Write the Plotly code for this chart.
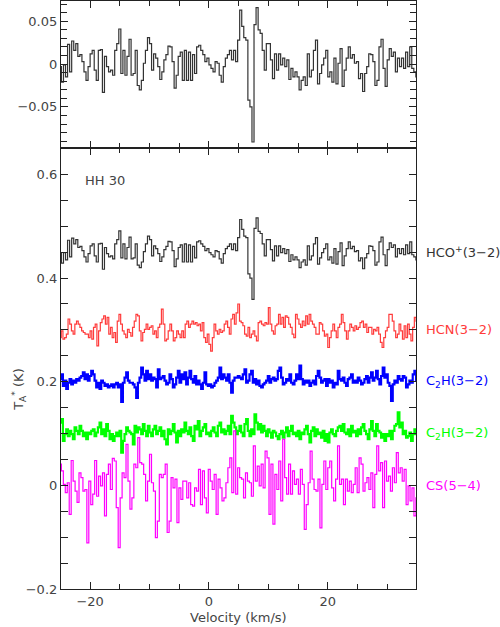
import numpy as np
import plotly.graph_objects as go
from plotly.subplots import make_subplots

# velocity span covered by every spectrum (km/s)
V_START = -25.0
V_END = 35.0

# spectra, baseline removed, in mK
HCO_P = [
    -3, -21, -1, -15, 23, -9, 27, 16, 24, 9,
    11, 3, -9, -19, -3, 12, 16, -7, -19, 16,
    17, -33, 9, -3, -9, -7, -13, 16, 24, 41,
    -11, 16, -13, 9, 29, -13, -11, 16, -25, -30,
    -19, 1, 16, 31, 24, -7, 12, 7, -3, -18,
    -9, 5, 11, 21, 20, 3, -28, -13, 9, 14,
    -19, 16, -19, 14, -19, 11, -11, 20, 22, 16,
    11, 3, 7, -1, -5, -9, 3, 1, -13, -21,
    -3, 7, 11, 16, 5, 16, 3, 28, 63, 44,
    31, 28, -42, -50, -91, 46, 66,
    40, 36, 16, -7, 24, 24, 5, -17, 12, -7,
    12, -1, 7, -3, 5, -18, -5, -15, -9, -15,
    -30, -19, -15, -25, 12, -15, -7, 16, 28, -23,
    -11, -1, 7, 16, -15, -9, -21, 7, -23, 1,
    18, -26, -7, 7, 20, 7, 11, 1, 3, -17,
    -11, -32, -11, -3, 12, 11, 3, -25, -19, 20,
    29, -5, -26, 5, 18, 9, 14, -9, 7, -3,
    7, -5, 14, -3, 20, -5, -9, -15,
]

HCN = [
    -15, -2, -18, -15, -8, 21, 11, -2, -8, 11,
    17, 11, 5, -2, -5, -8, -8, -15, -2, -18,
    5, 11, -31, -2, 14, 21, 27, 11, 24, -8,
    5, -15, -5, -24, 17, 30, 11, -2, -8, -15,
    1, -5, -12, 5, 17, 30, 27, -2, -21, -5,
    1, 11, 1, 5, 8, -8, -2, -15, 5, 11,
    40, 11, -21, -18, -2, 11, -2, -21, -15, -2,
    -8, -15, -2, -15, 11, 17, 5, 11, 17, 11,
    14, 8, 11, -2, 14, -15, -24, -8, -28, -41,
    -15, 11, -2, -8, 1, -5, -2, 11, 17, 5,
    -8, 21, 30, 11, 33, 50, 17,
    14, 8, -8, -12, 5, -15, -8, -2, -12, -21,
    14, 17, 11, 8, 14, 11, 43, 11, -2, -8,
    8, 11, 30, 11, 24, 5, 27, 24, 11, 5,
    -8, -15, 30, 21, 11, 5, 17, 8, 27, 11,
    30, 17, 11, 5, -8, -8, 14, 11, -2, -12,
    -8, -34, -15, -2, 11, -2, -15, 5, 11, 30,
    14, -2, -18, -2, 11, 5, -2, 8, 1, 5,
    14, 17, 5, 11, -5, 5, 5, -8, 1, -2,
    5, -8, -24, -34, -15, -2, 5, 30, 30, 17,
    -2, -15, -8, 11, -2, -18, 8, -15, 11, -8,
    -21, 5, 24, 17,
]

C2H_A = [
    5, 14, -8, 2, -14, -2, 5, -5, 2, -2, 5, 2, 8, 11, 18, 5, 14, 2, 11, 21,
    14, 2, -11, -2, -14, 2, -2, -8, -5, -11, -8, -5, -11, -5, -2, -11, -5, -39, -2, 8,
    18, 2, -2, -2, -5, -11, -31, -2, 8, 27, 14, 2, 21, 5, 14, 2, 8, 5, -11, 24,
    5, 8, 11, 2, -5, -2, 14, 5, -11, -5, 8, 21, -2, 14, 5, 18, -5, 8, 21, 5,
    -2, 11, -5, 2, -5, -14, -2, 18, -5, -8, -5, -11, -8, -2, 2, 8, 27, 5, 14, 8,
    2, 14, -2, -21, 2, 8, 8, 11,
    8, 5, 14, 24, -2, 2, 14, 21, -2, 5, -5, 2, -8, -11, -5, -2, 2, 11, -2, 5,
    8, 2, 5, 21, 27, 8, -5, -2, 5, 2, 14, -2, -5, 2, 14, 5, 31, 5, -5, 2,
    -2, 2, -8, -2, 2, -5, 11, 21, 8, -2, 2, 5, -8, 5, -2, 2, -11, -2, -5, 21,
    5, 2, 8, -2, -8, 5, 8, 14, -2, 2, -2, 8, 2, -5, -2, 5, 11, -2, 8, 18,
    2, 8, 21, 5, -5, 11, 27, 8, 14, -2, -8, -37, -5, 2, -2, 11, 5, 2, 11, 8,
    -11, -5, 2, -2, 14, 21, 2,
]

C2H_B = [
    21, 28, -14, -1, 8, -5, 5, -1, -11, 12, 5, -1, 15, 5, -5, 2, -11, 2, -1, 5,
    8, -5, 2, 12, 21, -1, 8, -5, 18, 5, -11, -1, -14, -5, 2, -5, 5, -37, -14, -1,
    12, 5, 2, -1, -21, 15, 2, 12, 8, -1, 18, 5, -5, 15, 2, -5, 8, 15, -1, 5,
    12, -5, 5, -11, -21, 8, -1, 5, 18, 2, -17, 5, -5, 8, 2, 21, 5, -1, 12, -5,
    -14, 15, 8, 24, -5, 5, 12, 18, -1, 2, -5, 5, 12, 2, -5, 15, 21, 2, 8, -1,
    5, 15, -1, 34, 21, 12, -1, 5,
    15, 2, -5, 18, 28, 5, -5, 8, -1, 37, 21, 8, 18, 2, 15, 5, -5, 8, 2, -8,
    5, 2, -5, -11, -1, 5, -8, 2, 12, -5, 5, 15, -1, 2, -5, 5, -11, 2, -1, 8,
    15, -1, -17, 5, 12, -5, 8, -1, 2, -8, 5, -14, -1, -17, 2, 8, -1, -5, 5, 12,
    15, 5, 18, 2, -1, 8, -5, 15, 2, 5, -5, 8, -1, 12, 18, 5, -1, -11, 8, 24,
    5, -5, 18, 5, 2, -8, -1, -14, -1, -5, 5, -11, 5, 15, 18, 41, 12, 21, -1, 5,
    -8, -5, 2, -14, -1, 8, -1,
]

CS = [
    41, 28, 2, -14, 5, -56, 48, 8, -11, -33, 24, 15, -11, -8, -111, 8, -37, -17, 48, -21,
    18, -1, 24, -59, 21, 41, -8, 52, 47, -43, -120, -24, 24, 15, 79, 8, -46, -24, 41, 34,
    92, 44, 41, 21, -30, 8, 60, 5, -11, -101, -69, 21, 15, 21, 41, -91, -69, 15, -5, 12,
    -72, -5, -27, 8, 8, -24, 5, -37, -40, -5, -11, 31, -37, 28, -24, -53, 31, 8, -8, 21,
    -56, 12, -5, -30, -24, 5, 34, 53, -14, 105, -17, 34, 15,
    12, -24, 24, 8, 5, -21, 76, 8, 37, -1, 41, -5, 66, 53, -56, 41, -75, 21, -8, 47,
    -30, 89, 15, -17, 41, -17, 28, 2, 12, -17, 31, 2, -85, -37, 5, 66, 12, -8, -11, 12,
    -82, 2, 47, -8, 34, 47, -5, -30, 12, 76, 2, 12, -37, 12, -11, 8, -14, 2, 34, -14,
    53, 41, -11, 5, 15, -8, 24, -43, 21, 76, 28, 44, -43, 47, 8, 18, -11, 34, 5, 63,
    24, 34, 8, 31, -37, -1, -30, -5, -59, -24,
]

LINES = [
    ("HCO<sup>+</sup>(3\u22122)", HCO_P, 0.45, "#333333", 1.2),
    ("HCN(3\u22122)", HCN, 0.30, "#ff3b3b", 1.2),
    ("C<sub>2</sub>H(3\u22122)", C2H_A, 0.20, "#0000ff", 2.2),
    ("C<sub>2</sub>H(3\u22122)", C2H_B, 0.10, "#00ff00", 2.2),
    ("CS(5\u22124)", CS, 0.00, "#ff00ff", 1.2),
]

FONT = "DejaVu Sans"
AXIS_COLOR = "#222222"
TEXT_COLOR = "#444444"


def velocities(values):
    return np.linspace(V_START, V_END, len(values))


fig = make_subplots(rows=2, cols=1, shared_xaxes=True, vertical_spacing=0,
                    row_heights=[0.25, 0.75])

# top panel: HCO+ alone, zoomed
fig.add_trace(go.Scatter(x=velocities(HCO_P), y=np.array(HCO_P) / 1000.0,
                         mode="lines", line=dict(color="#333333", width=1.2, shape="hvh"),
                         showlegend=False), row=1, col=1)

for label, spec, offset, color, width in LINES:
    fig.add_trace(go.Scatter(x=velocities(spec), y=np.array(spec) / 1000.0 + offset,
                             mode="lines", line=dict(color=color, width=width, shape="hvh"),
                             showlegend=False), row=2, col=1)
    fig.add_annotation(x=1.022, xref="paper", xanchor="left", y=offset, yref="y2",
                       text=label, showarrow=False,
                       font=dict(family=FONT, size=13, color=color))

fig.add_annotation(x=-21.2, xref="x2", xanchor="left", y=0.588, yref="y2",
                   text="HH 30", showarrow=False,
                   font=dict(family=FONT, size=13, color=TEXT_COLOR))

fig.add_annotation(x=-0.15, xref="paper", y=0.34, yref="paper", textangle=-90,
                   text="T<sub>A</sub><sup>*</sup> (K)", showarrow=False,
                   font=dict(family=FONT, size=13, color=TEXT_COLOR))

fig.add_annotation(x=0.5, xref="paper", y=-0.048, yref="paper", yanchor="middle",
                   text="Velocity (km/s)", showarrow=False,
                   font=dict(family=FONT, size=13, color=TEXT_COLOR))

axis_style = dict(showline=True, linecolor=AXIS_COLOR, linewidth=1.2, mirror="ticks",
                  ticks="inside", tickcolor=AXIS_COLOR, tickwidth=1, showgrid=False,
                  zeroline=False, automargin=False,
                  tickfont=dict(family=FONT, size=13, color=TEXT_COLOR))

fig.update_xaxes(range=[-24.9, 34.85], dtick=20, ticklen=7,
                 minor=dict(dtick=5, ticks="inside", ticklen=5, tickcolor=AXIS_COLOR),
                 **axis_style)
fig.update_xaxes(showticklabels=False, row=1, col=1)

fig.update_yaxes(range=[-0.098, 0.0737], dtick=0.05, ticklen=7,
                 minor=dict(dtick=0.01, ticks="inside", ticklen=6, tickcolor=AXIS_COLOR),
                 row=1, col=1, **axis_style)
fig.update_yaxes(range=[-0.2, 0.651], dtick=0.2, ticklen=7,
                 minor=dict(dtick=0.05, ticks="inside", ticklen=7, tickcolor=AXIS_COLOR),
                 row=2, col=1, **axis_style)

fig.update_layout(width=500, height=627, margin=dict(l=61, r=84, t=1, b=38),
                  plot_bgcolor="white", paper_bgcolor="white",
                  font=dict(family=FONT))

# drop the default page margin so the figure sits at the window's corner
fig.write_html("out.html", config={"displayModeBar": False},
               post_script="document.body.style.margin = '0';")
